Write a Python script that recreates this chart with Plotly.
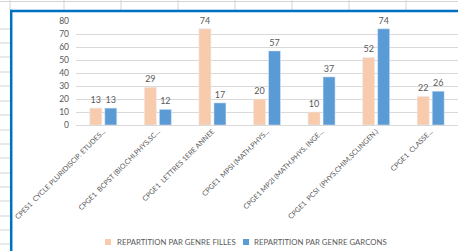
import plotly.graph_objects as go

categories = [
    "CPES1  CYCLE PLURIDISCIP. ETUDES...",
    "CPGE1  BCPST (BIO,CHI,PHYS,SC...",
    "CPGE1  LETTRES 1ERE ANNEE",
    "CPGE1  MPSI (MATH,PHYS...",
    "CPGE1 MP2I (MATH,PHYS, INGE...",
    "CPGE1  PCSI  (PHYS,CHIM,SCI,INGEN.)",
    "CPGE1  CLASSE...",
]
filles = [13, 29, 74, 20, 10, 52, 22]
garcons = [13, 12, 17, 57, 37, 74, 26]
series_names = ["REPARTITION PAR GENRE FILLES", "REPARTITION PAR GENRE GARCONS"]
series_colors = ["#F8CBAD", "#5B9BD5"]
y_ticks = [0, 10, 20, 30, 40, 50, 60, 70, 80]

W_FIG, H_FIG = 458, 251
L, R, T, B = 76, 0, 21, 126
PW = W_FIG - L - R
PH = H_FIG - T - B

def px(x):
    return (x - L) / PW

def py(y):
    return (T + PH - y) / PH

FONT = "Lato"
GRAY = "#595959"

fig = go.Figure()
for name, vals, col in zip(series_names, [filles, garcons], series_colors):
    fig.add_trace(go.Bar(
        x=categories, y=vals, name=name,
        marker=dict(color=col), text=vals, textposition="outside",
        textfont=dict(size=9, color=GRAY, family=FONT), cliponaxis=False,
        constraintext="none", showlegend=False,
    ))

shapes = []
annotations = []
grid_col = "#d4d4d4"
# spreadsheet row lines on the left strip
for yy in [29, 43, 57, 72, 86, 101, 115, 130, 144, 158, 173, 187, 201, 216, 230, 244]:
    shapes.append(dict(type="line", xref="paper", yref="paper",
                       x0=px(0), x1=px(10), y0=py(yy), y1=py(yy),
                       line=dict(color=grid_col, width=1)))
# spreadsheet top row
shapes.append(dict(type="line", xref="paper", yref="paper",
                   x0=px(0), x1=px(458), y0=py(1.5), y1=py(1.5),
                   line=dict(color=grid_col, width=1)))
for xx in [10, 64, 121, 178, 235, 292, 349, 406]:
    shapes.append(dict(type="line", xref="paper", yref="paper",
                       x0=px(xx), x1=px(xx), y0=py(0), y1=py(10),
                       line=dict(color=grid_col, width=1)))
# blue selection border
shapes.append(dict(type="line", xref="paper", yref="paper",
                   x0=px(11.2), x1=px(11.2), y0=py(9.8), y1=py(251),
                   line=dict(color="#0070C0", width=2.5)))
shapes.append(dict(type="line", xref="paper", yref="paper",
                   x0=px(10), x1=px(458), y0=py(11), y1=py(11),
                   line=dict(color="#0070C0", width=2.5)))

# legend (drawn as swatches + text)
legend_pos = [(108, 115), (246, 252)]
for (sx, tx), name, col in zip(legend_pos, series_names, series_colors):
    shapes.append(dict(type="rect", xref="paper", yref="paper",
                       x0=px(sx - 3), x1=px(sx + 3), y0=py(245), y1=py(239),
                       line=dict(width=0), fillcolor=col))
    annotations.append(dict(text=name, xref="paper", yref="paper",
                            x=px(tx), y=py(242), xanchor="left", yanchor="middle",
                            showarrow=False,
                            font=dict(size=7.8, color=GRAY, family=FONT)))

fig.update_layout(
    width=W_FIG, height=H_FIG,
    margin=dict(l=L, r=R, t=T, b=B, pad=0),
    paper_bgcolor="white", plot_bgcolor="white",
    font=dict(family=FONT, color=GRAY, size=8),
    barmode="group", bargap=0.45, bargroupgap=0.2,
    showlegend=False,
    shapes=shapes, annotations=annotations,
)
fig.update_xaxes(
    tickangle=-45, tickfont=dict(size=7.1, color=GRAY, family=FONT),
    showgrid=False, showline=False, ticks="", automargin=False,
    range=[-0.5, 6.5],
)
fig.update_yaxes(
    range=[0, 80], tickvals=y_ticks, showgrid=True, gridcolor="#d9d9d9",
    gridwidth=1, zeroline=True, zerolinecolor="#d9d9d9", zerolinewidth=1,
    tickfont=dict(size=8.5, color=GRAY, family=FONT), ticks="",
    ticklabelstandoff=6, automargin=False, showline=False,
)

fig.write_html("out.html", config={"displayModeBar": False},
               post_script="document.body.style.margin='0';document.body.style.overflow='hidden';")
